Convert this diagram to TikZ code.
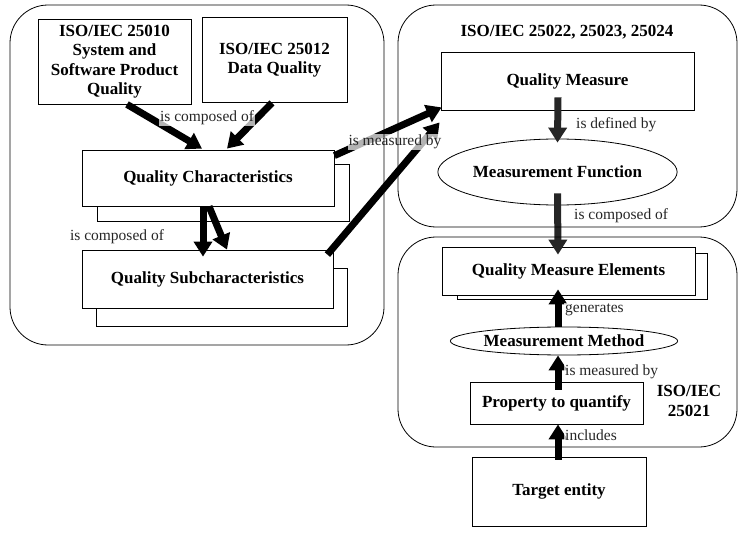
\documentclass[tikz,border=0pt]{standalone}
\usepackage{fontspec}
\setmainfont{Liberation Serif}
\usetikzlibrary{arrows.meta,shapes.geometric}
\begin{document}
\begin{tikzpicture}[x=1pt,y=-1pt,
  box/.style={draw,fill=white,line width=0.8pt,font=\bfseries\fontsize{17}{19.5}\selectfont,align=center,inner sep=0pt},
  ell/.style={ellipse,draw,fill=white,line width=0.8pt,font=\bfseries\fontsize{17}{19.5}\selectfont,inner sep=0pt},
  bigarrow/.style={line width=7pt,-{Triangle[width=18pt,length=15pt]}},
  lab/.style={font=\fontsize{15.5}{17}\selectfont,text=black!85,fill=white,fill opacity=0.7,text opacity=1,inner sep=1pt},
  container/.style={draw,line width=0.8pt,rounded corners=38pt},
  heading/.style={font=\bfseries\fontsize{17}{19.5}\selectfont,align=center}]
\useasboundingbox (0,0) rectangle (748,535);

% left group
\node[box,minimum width=153,minimum height=85] (iso10) at (114.5,61.5) {ISO/IEC 25010\\System and\\Software Product\\Quality};
\node[box,minimum width=145,minimum height=85] (iso12) at (274.5,60) {ISO/IEC 25012\\Data Quality};
\node[box,minimum width=252,minimum height=57] (qcsh) at (223,193) {};
\node[box,minimum width=252,minimum height=56] (qc) at (208,178) {Quality Characteristics};
\node[box,minimum width=251,minimum height=58] (qssh) at (222,297) {};
\node[box,minimum width=251,minimum height=58] (qs) at (207.5,279) {Quality Subcharacteristics};

% right top group
\node[heading] (t1) at (567,32) {ISO/IEC 25022, 25023, 25024};
\node[box,minimum width=253,minimum height=58] (qm) at (567.5,81) {Quality Measure};
\node[ell,minimum width=231,minimum height=66] (mf) at (557.5,172) {Measurement Function};

% right bottom group
\node[box,minimum width=250,minimum height=46] (qmesh) at (582,276) {};
\node[box,minimum width=253,minimum height=48] (qme) at (568.5,271) {Quality Measure Elements};
\node[ell,minimum width=218,minimum height=28] (mm) at (564,341) {Measurement Method};
\node[box,minimum width=173,minimum height=42] (pq) at (556.5,403) {Property to quantify};
\node[heading] (t2) at (689,401) {ISO/IEC\\25021};
\node[box,minimum width=174,minimum height=69] (te) at (559,491.5) {Target entity};

% arrows
\draw[bigarrow] ([xshift=12.5pt]iso10.south) -- ([xshift=-6pt,yshift=1pt]qc.north);
\draw[bigarrow] ([xshift=-2.5pt]iso12.south) -- ([xshift=19pt,yshift=1pt]qc.north);
\draw[bigarrow] ([xshift=-5pt]qc.south) -- ([xshift=-4.5pt,yshift=-7pt]qs.north);
\draw[bigarrow] ([xshift=1pt]qc.south) -- ([xshift=19.5pt]qs.north);
\draw[bigarrow] ([yshift=-6pt]qc.north east) -- ([xshift=1pt,yshift=3pt]qm.south west);
\draw[bigarrow] ([xshift=-6pt,yshift=-5pt]qs.north east) -- ([xshift=-1pt,yshift=-12pt]qm.south west);
\draw[bigarrow,black!85] ([xshift=-9.5pt,yshift=13pt]qm.south) -- ([yshift=-4pt]mf.north);
\draw[bigarrow,black!85] ([yshift=12pt]mf.south) -- ([xshift=-10.5pt,yshift=-8pt]qme.north);
\draw[bigarrow] ([xshift=-6pt]mm.north) -- ([xshift=-10.5pt,yshift=6pt]qme.south);
\draw[bigarrow] ([xshift=1.5pt,yshift=-8pt]pq.north) -- ([xshift=-6pt]mm.south);
\draw[bigarrow] ([xshift=-1pt,yshift=-3pt]te.north) -- ([xshift=1.5pt]pq.south);

% labels
\node[lab] (l1) at (207,118) {is composed of};
\node[lab] (l2) at (117,237) {is composed of};
\node[lab] (l3) at (395,142) {is measured by};
\node[lab,anchor=west] (l4) at (575,125) {is defined by};
\node[lab,anchor=west] (l5) at (573,216) {is composed of};
\node[lab,anchor=west] (l6) at (564,310) {generates};
\node[lab,anchor=west] (l7) at (564,372) {is measured by};
\node[lab,anchor=west] (l8) at (564,435) {includes};

% containers
\draw[container] (10,5) rectangle (384,345);
\draw[container] (398,5) rectangle (737,227);
\draw[container] (398,237) rectangle (737,447);
\end{tikzpicture}
\end{document}
